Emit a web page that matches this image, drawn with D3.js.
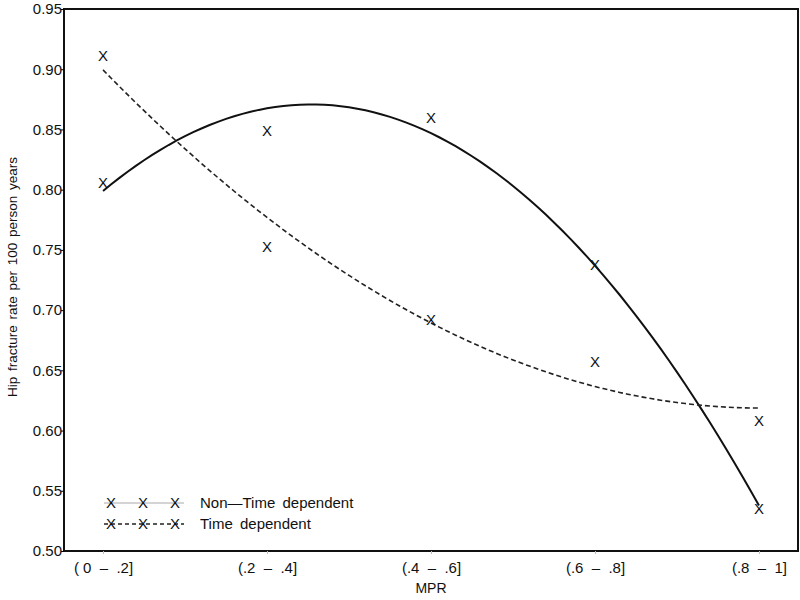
<!DOCTYPE html>
<html>
<head>
<meta charset="utf-8">
<script src="https://cdn.jsdelivr.net/npm/d3@7"></script>
<style>
  body { margin: 0; background: #fff; }
  svg text { font-family: "Liberation Sans", Arial, sans-serif; fill: #111; white-space: pre; }
</style>
</head>
<body>
<div id="chart"></div>
<script>
var categories = ['( 0  \u2013  .2]', '(.2  \u2013  .4]', '(.4  \u2013  .6]', '(.6  \u2013  .8]', '(.8  \u2013  1]'];
var nonTimeRates = [0.806, 0.849, 0.860, 0.738, 0.535];
var timeRates = [0.911, 0.753, 0.692, 0.657, 0.608];
var yTicks = [0.50, 0.55, 0.60, 0.65, 0.70, 0.75, 0.80, 0.85, 0.90, 0.95];
var seriesNames = ['Non\u2014Time dependent', 'Time dependent'];

var width = 800,
    height = 600,
    padL = 64,
    padR = 798,
    padT = 9,
    padB = 551;

var svg = d3.select('#chart').append('svg')
    .attr('width', width)
    .attr('height', height);

// category index -> x, frame sits a bit outside first/last category
var x = d3.scaleLinear().domain([-0.238, categories.length - 1 + 0.238]).range([padL, padR]);
var y = d3.scaleLinear().domain([0.50, 0.95]).range([padB, padT]);

// quadratic regression of the points (the curves in the figure are rq fits)
function quadFit(vals) {
    var sx = [0, 0, 0, 0, 0], sxy = [0, 0, 0];
    vals.forEach(function(v, i) {
        for (var k = 0; k < 5; k++) sx[k] += Math.pow(i, k);
        for (var k = 0; k < 3; k++) sxy[k] += v * Math.pow(i, k);
    });
    var m = [[sx[0], sx[1], sx[2], sxy[0]], [sx[1], sx[2], sx[3], sxy[1]], [sx[2], sx[3], sx[4], sxy[2]]];
    for (var c = 0; c < 3; c++) {
        for (var r = c + 1; r < 3; r++) {
            var f = m[r][c] / m[c][c];
            for (var k = c; k < 4; k++) m[r][k] -= f * m[c][k];
        }
    }
    var b = [0, 0, 0];
    for (var r = 2; r >= 0; r--) {
        var s = m[r][3];
        for (var k = r + 1; k < 3; k++) s -= m[r][k] * b[k];
        b[r] = s / m[r][r];
    }
    return function(t) { return b[0] + b[1] * t + b[2] * t * t; };
}

var line = d3.line().x(function(d) { return x(d[0]); }).y(function(d) { return y(d[1]); });

function curve(vals) {
    var f = quadFit(vals);
    return d3.range(0, vals.length - 1 + 0.001, 0.05).map(function(t) { return [t, f(t)]; });
}

svg.append('path')
    .attr('d', line(curve(nonTimeRates)))
    .attr('fill', 'none')
    .attr('stroke', '#111')
    .attr('stroke-width', 2);

svg.append('path')
    .attr('d', line(curve(timeRates)))
    .attr('fill', 'none')
    .attr('stroke', '#222')
    .attr('stroke-width', 1.6)
    .attr('stroke-dasharray', '5,3');

// X markers
[nonTimeRates, timeRates].forEach(function(vals) {
    svg.append('g').selectAll('text')
        .data(vals)
        .enter().append('text')
        .attr('x', function(d, i) { return x(i); })
        .attr('y', function(d) { return y(d); })
        .attr('dy', '0.36em')
        .attr('text-anchor', 'middle')
        .style('font-size', '15px')
        .text('X');
});

// frame
svg.append('rect')
    .attr('x', padL).attr('y', padT)
    .attr('width', padR - padL).attr('height', padB - padT)
    .attr('fill', 'none')
    .attr('stroke', '#111')
    .attr('stroke-width', 2);

// axes
var yAxis = d3.axisLeft(y).tickValues(yTicks).tickSize(3).tickFormat(d3.format('.2f'));
var gy = svg.append('g').attr('transform', 'translate(' + padL + ',0)').call(yAxis);
gy.select('.domain').remove();
gy.selectAll('text').style('font-size', '15px').attr('x', -2);

var xAxis = d3.axisBottom(x).tickValues(d3.range(categories.length)).tickSize(3)
    .tickFormat(function(d) { return categories[d]; });
var gx = svg.append('g').attr('transform', 'translate(0,' + padB + ')').call(xAxis);
gx.select('.domain').remove();
gx.selectAll('line').attr('stroke', '#bbb');
gx.selectAll('text').style('font-size', '15px').attr('y', 11);

svg.append('text')
    .attr('transform', 'translate(17,277) rotate(-90)')
    .attr('text-anchor', 'middle')
    .style('font-size', '13.5px')
    .style('word-spacing', '2px')
    .text('Hip fracture rate per 100 person years');

svg.append('text')
    .attr('x', x(2))
    .attr('y', 593)
    .attr('text-anchor', 'middle')
    .style('font-size', '14px')
    .text('MPR');

// legend
var legend = svg.append('g');
[0, 1].forEach(function(i) {
    var ly = 503 + i * 21;
    legend.append('line')
        .attr('x1', 104).attr('x2', 184).attr('y1', ly).attr('y2', ly)
        .attr('stroke', i === 0 ? '#aaa' : '#222')
        .attr('stroke-width', i === 0 ? 1.2 : 1.5)
        .attr('stroke-dasharray', i === 0 ? null : '4,3');
    [111, 143, 175].forEach(function(mx) {
        legend.append('text')
            .attr('x', mx).attr('y', ly).attr('dy', '0.36em')
            .attr('text-anchor', 'middle')
            .style('font-size', '15px')
            .text('X');
    });
    legend.append('text')
        .attr('x', 200).attr('y', ly).attr('dy', '0.36em')
        .style('font-size', '15px')
        .style('word-spacing', '3px')
        .text(seriesNames[i]);
});
</script>
</body>
</html>
